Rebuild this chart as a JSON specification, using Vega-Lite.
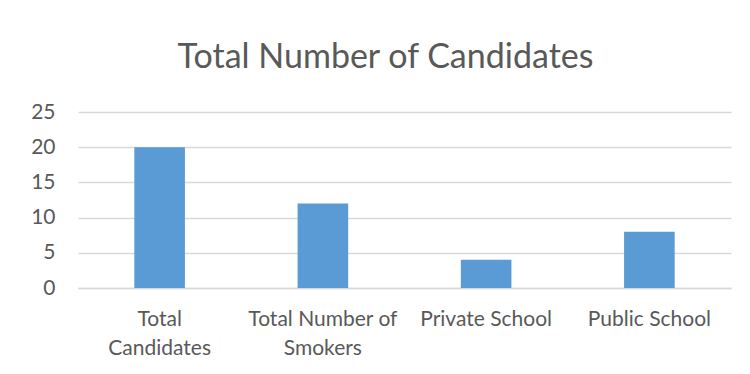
{
  "$schema": "https://vega.github.io/schema/vega-lite/v6.json",
  "width": 653,
  "height": 176,
  "autosize": {"type": "none"},
  "padding": {"left": 78, "top": 112, "right": 19, "bottom": 86},
  "background": "white",
  "title": {
    "text": "Total Number of Candidates",
    "font": "Lato",
    "fontSize": 34,
    "fontWeight": "normal",
    "color": "#595959",
    "anchor": "middle",
    "frame": "group",
    "baseline": "alphabetic",
    "offset": -1,
    "dx": -19
  },
  "data": {
    "values": [
      {"category": "Total Candidates", "count": 20},
      {"category": "Total Number of Smokers", "count": 12},
      {"category": "Private School", "count": 4},
      {"category": "Public School", "count": 8}
    ]
  },
  "mark": {"type": "bar", "color": "#5B9BD5"},
  "encoding": {
    "x": {
      "field": "category",
      "type": "nominal",
      "sort": null,
      "scale": {"paddingInner": 0.69, "paddingOuter": 0.345},
      "axis": {
        "title": null,
        "labelAngle": 0,
        "labelFont": "Lato",
        "labelFontSize": 21,
        "labelColor": "#595959",
        "labelLineHeight": 29,
        "labelPadding": 20,
        "labelBaseline": "top",
        "ticks": false,
        "domainColor": "#D9D9D9",
        "domainWidth": 1.3,
        "labelExpr": "datum.value == 'Total Candidates' ? ['Total', 'Candidates'] : datum.value == 'Total Number of Smokers' ? ['Total Number of', 'Smokers'] : datum.value"
      }
    },
    "y": {
      "field": "count",
      "type": "quantitative",
      "scale": {"domain": [0, 25]},
      "axis": {
        "title": null,
        "values": [0, 5, 10, 15, 20, 25],
        "labelFont": "Lato",
        "labelFontSize": 21,
        "labelColor": "#595959",
        "labelPadding": 23,
        "ticks": false,
        "domain": false,
        "gridColor": "#D9D9D9",
        "gridWidth": 1.3
      }
    }
  },
  "config": {"view": {"stroke": null}}
}
